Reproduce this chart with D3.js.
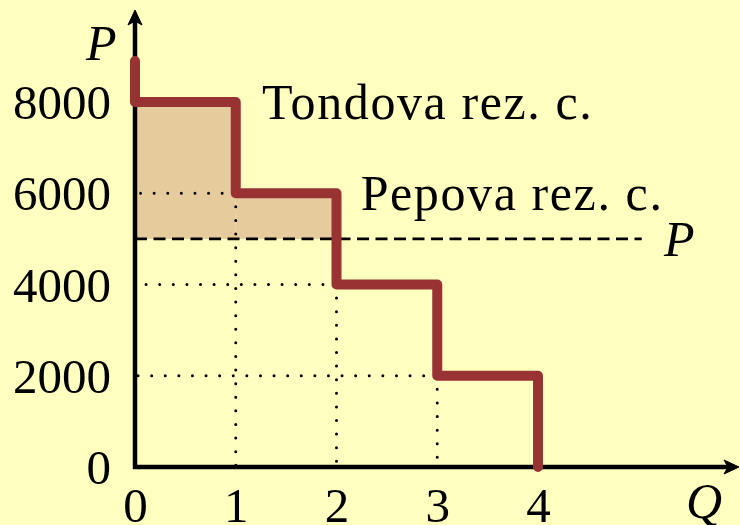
<!DOCTYPE html>
<html>
<head>
<meta charset="utf-8">
<script src="https://cdn.jsdelivr.net/npm/d3@7"></script>
<style>
  body { margin: 0; background: #ffffc0; }
  svg { display: block; }
  .tick text { font-family: "Liberation Serif", serif; font-size: 49px; fill: #000; }
</style>
</head>
<body>
<svg id="chart" width="740" height="525"></svg>
<script>
// step demand: quantity bounds and price of each step
var stepQ = [0, 1, 2, 3, 4];
var stepPrice = [8000, 6000, 4000, 2000];
var topPrice = 8900;
var marketPrice = 5000;
var marketQ = 5;
var xTicks = [0, 1, 2, 3, 4];
var yTicks = [0, 2000, 4000, 6000, 8000];
var labels = [
  {text: "Tondova rez. c.", q: 1.26, p: 8000},
  {text: "Pepova rez. c.", q: 2.24, p: 6000}
];

var svg = d3.select("#chart");
var x = d3.scaleLinear().domain([0, 4]).range([135, 538]);
var y = d3.scaleLinear().domain([0, 8000]).range([467, 102]);

// consumer surplus area above the market price
var surplus = [];
for (var i = 0; i < stepPrice.length; i++) {
    if (stepPrice[i] > marketPrice) {
        surplus.push({q0: stepQ[i], q1: stepQ[i + 1], p: stepPrice[i]});
    }
}
svg.selectAll("rect.surplus")
    .data(surplus)
    .enter()
    .append("rect")
    .attr("class", "surplus")
    .attr("x", function(d) { return x(d.q0); })
    .attr("width", function(d) { return x(d.q1) - x(d.q0); })
    .attr("y", function(d) { return y(d.p); })
    .attr("height", function(d) { return y(marketPrice) - y(d.p); })
    .attr("fill", "#e6cb9c");

// dotted guides
var guides = [];
for (var i = 1; i < stepPrice.length; i++) {
    guides.push({x1: x(stepQ[i]), y1: y(stepPrice[i]), x2: x(0), y2: y(stepPrice[i])});
    guides.push({x1: x(stepQ[i]), y1: y(stepPrice[i]), x2: x(stepQ[i]), y2: y(0)});
}
svg.selectAll("line.guide")
    .data(guides)
    .enter()
    .append("line")
    .attr("class", "guide")
    .attr("x1", function(d) { return d.x1; })
    .attr("y1", function(d) { return d.y1; })
    .attr("x2", function(d) { return d.x2; })
    .attr("y2", function(d) { return d.y2; })
    .attr("stroke", "#000")
    .attr("stroke-width", 3)
    .attr("stroke-linecap", "round")
    .attr("stroke-dasharray", "0,13.6");

// market price dashed line
svg.append("line")
    .attr("x1", x(0)).attr("x2", x(marketQ) + 3)
    .attr("y1", y(marketPrice)).attr("y2", y(marketPrice))
    .attr("stroke", "#000")
    .attr("stroke-width", 2.6)
    .attr("stroke-dasharray", "12,6.5");

// axes with arrow heads
var xEnd = 739, yEnd = 10;
svg.append("line")
    .attr("x1", x(0) - 2).attr("y1", y(0))
    .attr("x2", xEnd - 8).attr("y2", y(0))
    .attr("stroke", "#000").attr("stroke-width", 4.5);
svg.append("line")
    .attr("x1", x(0)).attr("y1", y(0) + 2)
    .attr("x2", x(0)).attr("y2", yEnd + 8)
    .attr("stroke", "#000").attr("stroke-width", 4.5);
svg.append("path")
    .attr("d", "M" + xEnd + "," + y(0) + " L" + (xEnd - 15) + "," + (y(0) - 7) +
               " L" + (xEnd - 11) + "," + y(0) + " L" + (xEnd - 15) + "," + (y(0) + 7) + " Z")
    .attr("fill", "#000").attr("stroke", "#000").attr("stroke-linejoin", "round");
svg.append("path")
    .attr("d", "M" + x(0) + "," + yEnd + " L" + (x(0) - 7) + "," + (yEnd + 15) +
               " L" + x(0) + "," + (yEnd + 11) + " L" + (x(0) + 7) + "," + (yEnd + 15) + " Z")
    .attr("fill", "#000").attr("stroke", "#000").attr("stroke-linejoin", "round");

// step demand curve
var pts = [[0, topPrice]];
for (var i = 0; i < stepPrice.length; i++) {
    pts.push([stepQ[i], stepPrice[i]]);
    pts.push([stepQ[i + 1], stepPrice[i]]);
}
pts.push([stepQ[stepQ.length - 1], 0]);
svg.append("path")
    .attr("d", d3.line().x(function(d) { return x(d[0]); }).y(function(d) { return y(d[1]); })(pts))
    .attr("fill", "none")
    .attr("stroke", "#993333")
    .attr("stroke-width", 10)
    .attr("stroke-linejoin", "round")
    .attr("stroke-linecap", "round");

// tick labels
svg.append("g")
    .attr("transform", "translate(" + (x(0) - 24) + ",0)")
    .call(d3.axisLeft(y).tickValues(yTicks).tickSize(0).tickPadding(0).tickFormat(d3.format("d")))
    .call(function(g) { g.select(".domain").remove(); })
    .selectAll("text").attr("dy", "0.34em");

svg.append("g")
    .attr("transform", "translate(0,522)")
    .call(d3.axisBottom(x).tickValues(xTicks).tickSize(0).tickPadding(0).tickFormat(d3.format("d")))
    .call(function(g) { g.select(".domain").remove(); })
    .selectAll("text").attr("dy", "0");

// text labels
svg.selectAll("text.curve-label")
    .data(labels)
    .enter()
    .append("text")
    .attr("class", "curve-label")
    .attr("x", function(d) { return x(d.q); })
    .attr("y", function(d) { return y(d.p) + 17; })
    .attr("font-family", "Liberation Serif, serif")
    .attr("font-size", 50)
    .attr("letter-spacing", 1.6)
    .text(function(d) { return d.text; });

svg.append("text")
    .attr("x", 86).attr("y", 60)
    .attr("font-family", "Liberation Serif, serif")
    .attr("font-style", "italic")
    .attr("font-size", 50)
    .text("P");
svg.append("text")
    .attr("x", 664).attr("y", y(marketPrice) + 17)
    .attr("font-family", "Liberation Serif, serif")
    .attr("font-style", "italic")
    .attr("font-size", 50)
    .text("P");
svg.append("text")
    .attr("x", 686).attr("y", 518)
    .attr("font-family", "Liberation Serif, serif")
    .attr("font-style", "italic")
    .attr("font-size", 50)
    .text("Q");
</script>
</body>
</html>
